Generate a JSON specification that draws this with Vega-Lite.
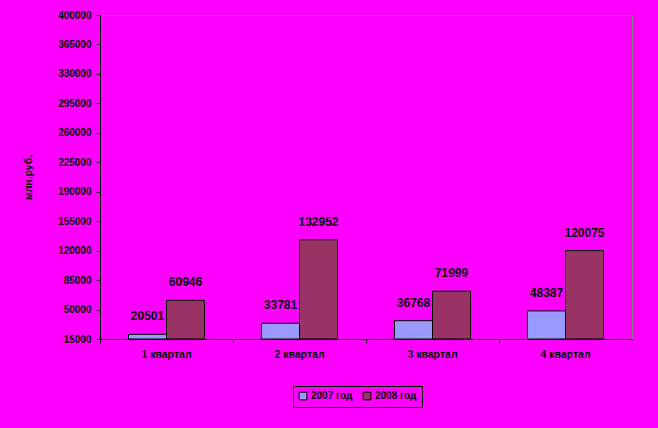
{
  "$schema": "https://vega.github.io/schema/vega-lite/v6.json",
  "width": 532,
  "height": 324,
  "autosize": {"type": "none"},
  "padding": {"left": 100, "top": 15, "right": 26, "bottom": 89},
  "background": "#FF00FF",
  "config": {
    "view": {"stroke": "#808080", "strokeWidth": 1},
    "font": "Liberation Sans"
  },
  "data": {
    "values": [
      {"q": "1 квартал", "year": "2007 год", "v": 20501},
      {"q": "1 квартал", "year": "2008 год", "v": 60946},
      {"q": "2 квартал", "year": "2007 год", "v": 33781},
      {"q": "2 квартал", "year": "2008 год", "v": 132952},
      {"q": "3 квартал", "year": "2007 год", "v": 36768},
      {"q": "3 квартал", "year": "2008 год", "v": 71999},
      {"q": "4 квартал", "year": "2007 год", "v": 48387},
      {"q": "4 квартал", "year": "2008 год", "v": 120075}
    ]
  },
  "encoding": {
    "x": {
      "field": "q", "type": "nominal",
      "scale": {"paddingInner": 0, "paddingOuter": 0},
      "axis": {
        "title": null, "labelAngle": 0, "labelFont": "Liberation Sans", "labelFontSize": 10.5,
        "labelFontWeight": "bold", "labelColor": "black", "domainColor": "black",
        "tickColor": "black", "tickSize": 4, "bandPosition": 0, "labelPadding": 6, "grid": false
      }
    },
    "xOffset": {"field": "year", "type": "nominal", "scale": {"paddingInner": 0, "paddingOuter": 0.75}},
    "y": {
      "field": "v", "type": "quantitative",
      "scale": {"domain": [15000, 400000], "zero": false, "nice": false},
      "axis": {
        "title": "млн.руб.", "values": [15000, 50000, 85000, 120000, 155000, 190000, 225000, 260000, 295000, 330000, 365000, 400000],
        "grid": false, "labelFont": "Liberation Sans", "labelFontSize": 10, "labelFontWeight": "bold",
        "labelColor": "black", "domainColor": "black", "tickColor": "black", "tickSize": 4,
        "labelPadding": 5, "format": "d", "titleFont": "Liberation Sans", "titleFontSize": 10.5,
        "titleFontWeight": "bold", "titleColor": "black", "titlePadding": 24
      }
    }
  },
  "layer": [
    {
      "mark": {"type": "bar", "stroke": "black", "strokeWidth": 1},
      "encoding": {
        "y2": {"datum": 15000},
        "color": {
          "field": "year", "type": "nominal",
          "scale": {"domain": ["2007 год", "2008 год"], "range": ["#9999FF", "#993366"]},
          "legend": {
            "title": null, "orient": "none", "direction": "horizontal",
            "legendX": 193, "legendY": 371,
            "labelFont": "Liberation Sans", "labelFontSize": 10, "labelFontWeight": "bold", "labelColor": "black",
            "symbolType": "square", "symbolSize": 60, "symbolStrokeColor": "black", "symbolStrokeWidth": 1,
            "strokeColor": "black", "padding": 5, "columnPadding": 8, "labelOffset": 3
          }
        }
      }
    },
    {
      "mark": {"type": "text", "baseline": "middle", "dy": -18, "font": "Liberation Sans", "fontSize": 12, "fontWeight": "bold", "color": "black"},
      "encoding": {
        "text": {"field": "v", "type": "quantitative", "format": "d"}
      }
    }
  ]
}
